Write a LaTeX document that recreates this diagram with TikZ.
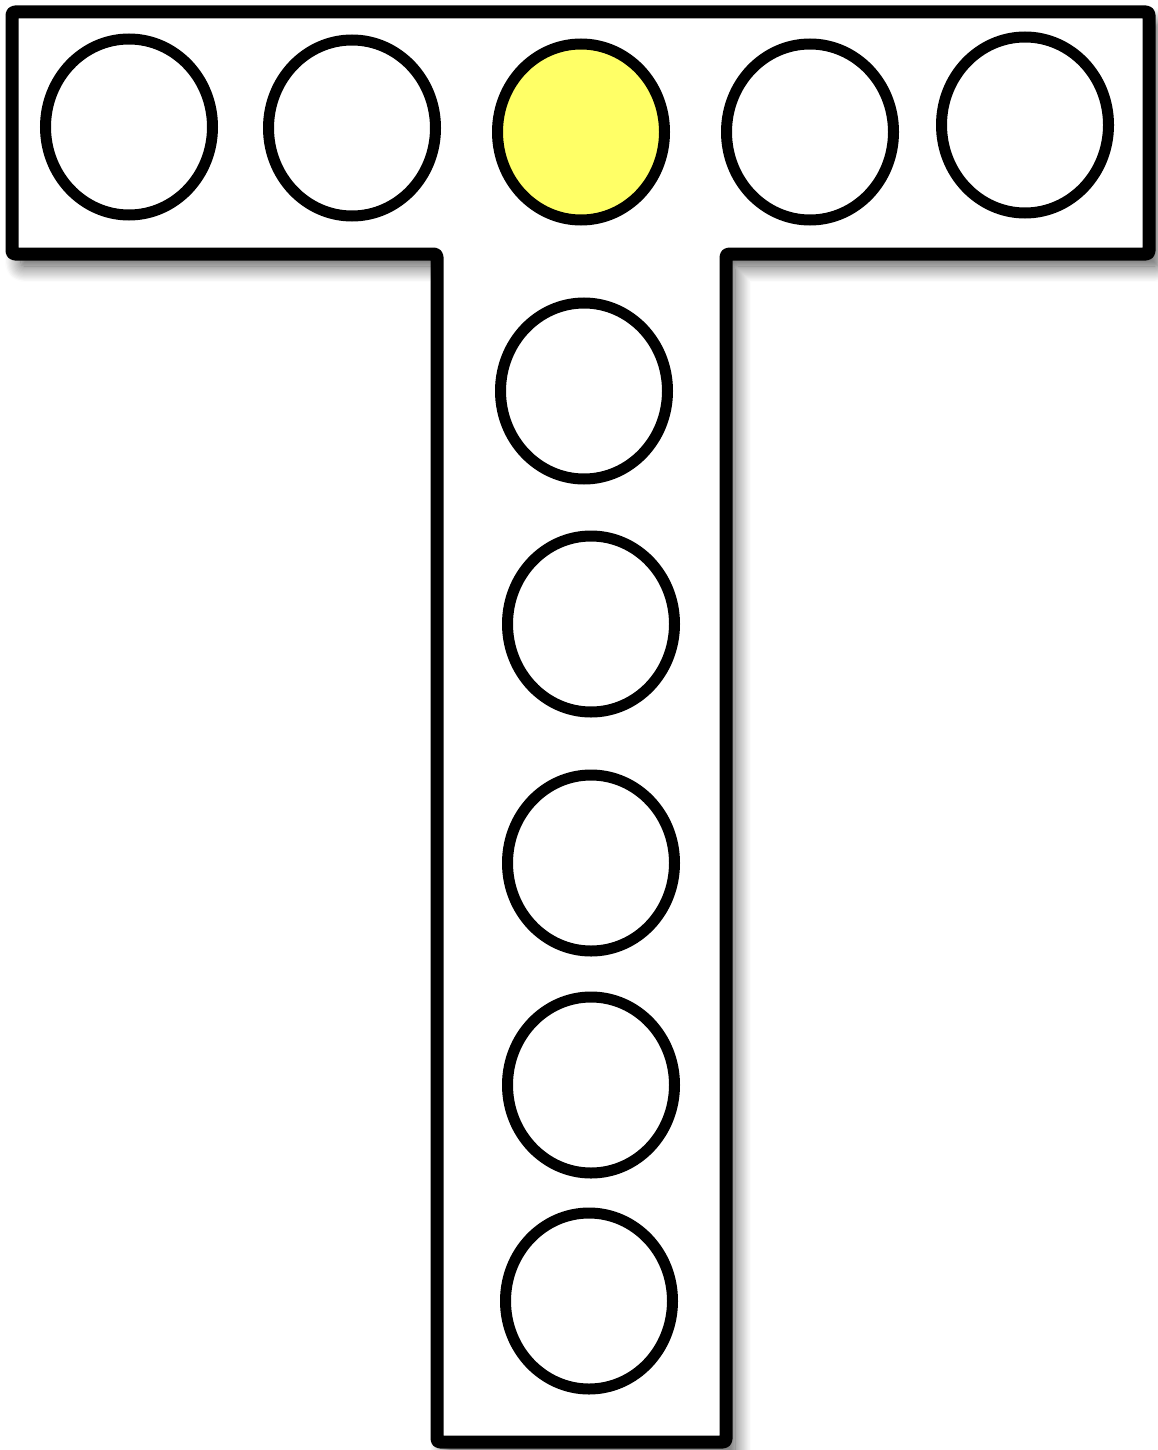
\documentclass[tikz,border=0pt]{standalone}
\usetikzlibrary{shapes.geometric,shadows.blur}
\definecolor{hole}{HTML}{FFFF66}
\tikzset{
  outline/.style={draw=black,line width=13pt,fill=white,rounded corners=3pt,line join=round,
    blur shadow={shadow xshift=9pt,shadow yshift=-12pt,shadow blur radius=16pt,shadow opacity=70,shadow blur steps=14}},
  dot/.style={ellipse,draw=black,line width=11pt,fill=white,inner sep=0pt,minimum width=167pt,minimum height=176pt},
  lit/.style={dot,fill=hole}
}
\begin{document}
\begin{tikzpicture}[x=1pt,y=-1pt]
\useasboundingbox (0,0) rectangle (1157,1450);
\path[outline] (12,12) -- (1149,12) -- (1149,254) -- (726,254) -- (726,1442) -- (437,1442) -- (437,254) -- (12,254) -- cycle;
\node[dot] (c1) at (129,127) {};
\node[dot] (c2) at (352,128) {};
\node[lit] (c3) at (581,132) {};
\node[dot] (c4) at (810,132) {};
\node[dot] (c5) at (1025,125) {};
\node[dot] (c6) at (584,391) {};
\node[dot] (c7) at (591,624) {};
\node[dot] (c8) at (591,863) {};
\node[dot] (c9) at (591,1085) {};
\node[dot] (c10) at (589,1301) {};
\end{tikzpicture}
\end{document}
